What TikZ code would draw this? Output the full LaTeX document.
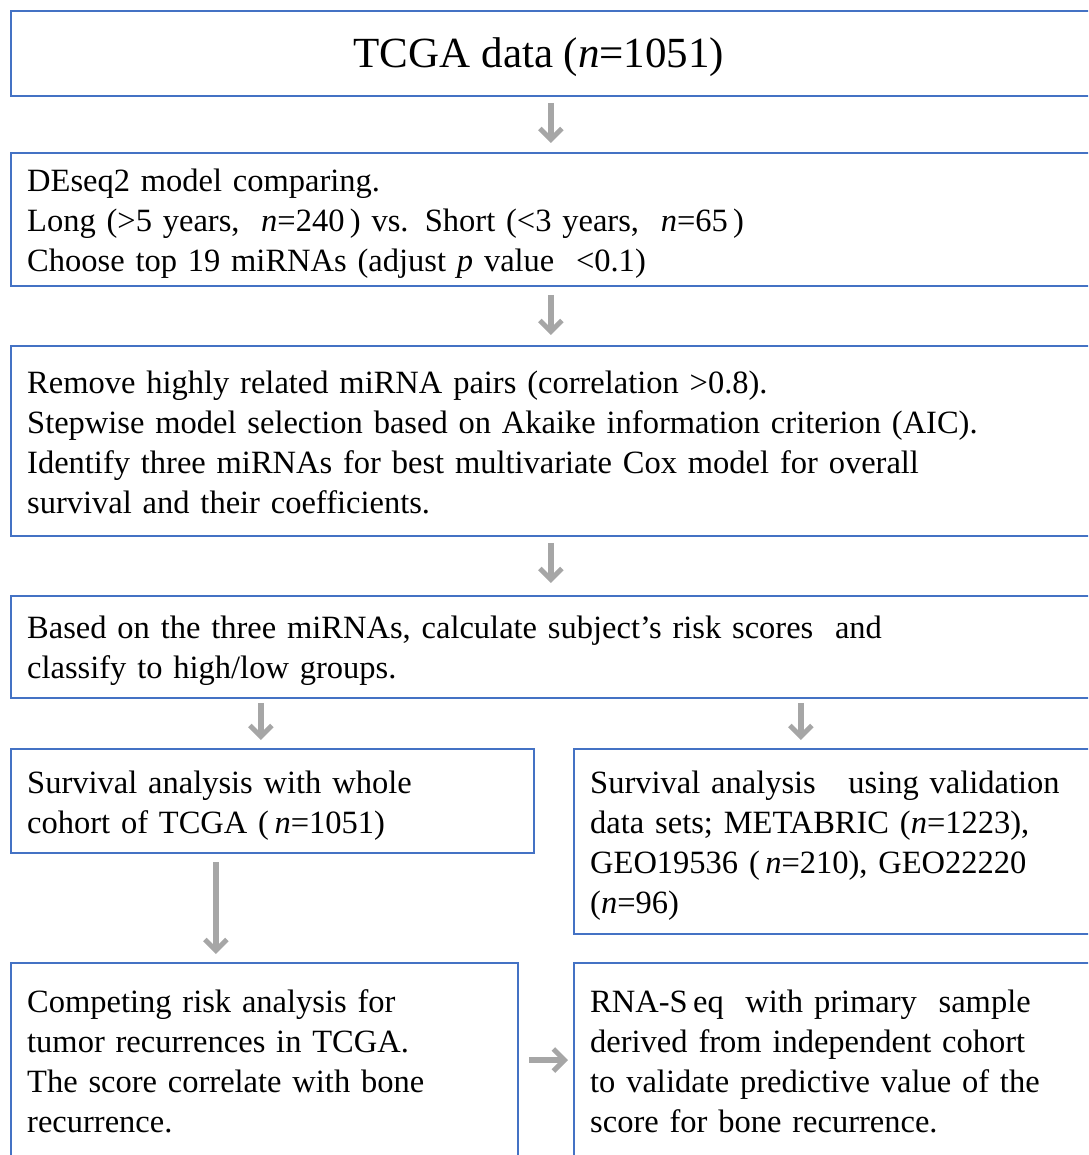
\documentclass[tikz,border=0pt]{standalone}
\usepackage{fontspec}
\setmainfont{Liberation Serif}
\usetikzlibrary{arrows.meta}
\definecolor{boxblue}{HTML}{4472C4}
\definecolor{arrgray}{HTML}{A6A6A6}
\tikzset{
  box/.style={draw=boxblue, line width=1.8pt, anchor=north west, inner sep=0pt},
  txt/.style={anchor=base west, inner sep=0pt, align=left, text width=#1,
    font=\fontsize{32.5}{40}\selectfont},
  arr/.style={draw=arrgray, line width=5.5pt, -{Straight Barb[length=11pt,width=22pt,line width=5pt]}},
}
\begin{document}
\begin{tikzpicture}[x=1pt,y=-1pt]
\useasboundingbox (0,0) rectangle (1088,1155);
\clip (0,0) rectangle (1088,1155);
% boxes
\node[box, minimum width=1080pt, minimum height=85pt] (b1) at (10,10) {};
\node[box, minimum width=1080pt, minimum height=133pt] (b2) at (10,152) {};
\node[box, minimum width=1080pt, minimum height=190pt] (b3) at (10,345) {};
\node[box, minimum width=1080pt, minimum height=102pt] (b4) at (10,595) {};
\node[box, minimum width=523pt, minimum height=104pt] (b5) at (10,748) {};
\node[box, minimum width=530pt, minimum height=185pt] (b6) at (573,748) {};
\node[box, minimum width=507pt, minimum height=230pt] (b7) at (10,962) {};
\node[box, minimum width=530pt, minimum height=230pt] (b8) at (573,962) {};
% texts
\node[anchor=base, inner sep=0pt, font=\fontsize{43}{50}\selectfont] (t1) at (539,68) {TCGA data (\textit{n}=1051)};
\node[txt=1040pt] (t2) at (27,192) {DEseq2 model comparing.\\
Long (>5 years,\ \ \textit{n}=240\,) vs. Short (<3 years,\ \ \textit{n}=65\,)\\
Choose top 19 miRNAs (adjust\ \textit{p}\ value\ \ <0.1)};
\node[txt=1040pt] (t3) at (27,393) {Remove highly related miRNA pairs (correlation >0.8).\\
Stepwise model selection based on Akaike information criterion (AIC).\\
Identify three miRNAs for best multivariate Cox model for overall\\
survival and their coefficients.};
\node[txt=1040pt] (t4) at (27,638) {Based on the three miRNAs, calculate subject’s risk scores\ \ and\\
classify to high/low groups.};
\node[txt=500pt] (t5) at (27,793) {Survival analysis with whole\\
cohort of TCGA (\,\textit{n}=1051)};
\node[txt=500pt] (t6) at (590,793) {Survival analysis\ \ \ using validation\\
data sets; METABRIC (\textit{n}=1223),\\
GEO19536 (\,\textit{n}=210), GEO22220\\
(\textit{n}=96)};
\node[txt=480pt] (t7) at (27,1012) {Competing risk analysis for\\
tumor recurrences in TCGA.\\
The score correlate with bone\\
recurrence.};
\node[txt=500pt] (t8) at (590,1012) {RNA-S\,eq\ \ with primary\ \ sample\\
derived from independent cohort\\
to validate predictive value of the\\
score for bone recurrence.};
% arrows
\draw[arr, shorten <=6pt, shorten >=9pt] (b1.south) -- (b2.north);
\draw[arr, shorten <=8pt, shorten >=10pt] (b2.south) -- (b3.north);
\draw[arr, shorten <=6pt, shorten >=12pt] (b3.south) -- (b4.north);
\draw[arr, shorten <=4pt, shorten >=8pt] ([xshift=-290pt]b4.south) -- ([xshift=-290pt]b4.south |- b5.north);
\draw[arr, shorten <=4pt, shorten >=8pt] ([xshift=250pt]b4.south) -- ([xshift=250pt]b4.south |- b6.north);
\draw[arr, shorten <=8pt, shorten >=8pt] ([xshift=-56.5pt]b5.south) -- ([xshift=-56.5pt]b5.south |- b7.north);
\draw[arr, shorten <=10pt, shorten >=5pt] ([yshift=-98pt]b7.north east) -- ([yshift=-98pt]b7.north east -| b8.west);
\end{tikzpicture}
\end{document}
